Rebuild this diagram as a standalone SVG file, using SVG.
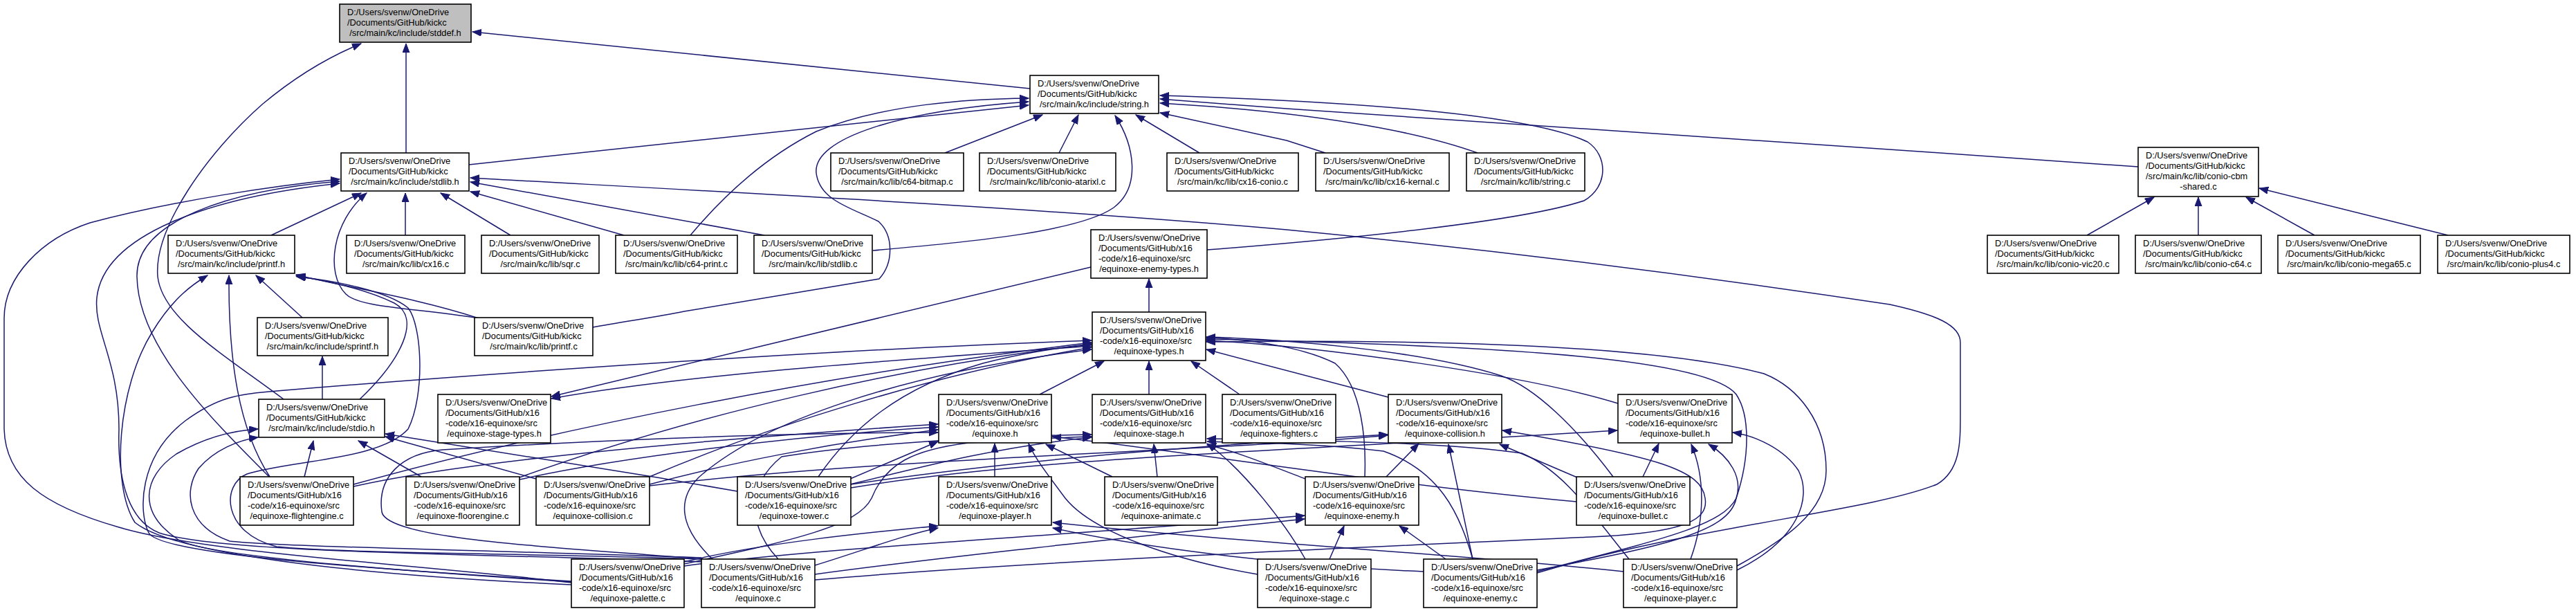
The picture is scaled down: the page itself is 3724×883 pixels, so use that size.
<svg xmlns="http://www.w3.org/2000/svg" width="3724" height="883" viewBox="0 0 3724 883">
<style>
.n rect{fill:#fff;stroke:#000;stroke-width:1.6}
.n.g rect{fill:#bfbfbf}
.n text{font-family:"Liberation Sans",Arial,sans-serif;font-size:12.8px;fill:#000}
.n text.c{text-anchor:middle}
.e path{fill:none;stroke:#191970;stroke-width:1.5;marker-end:url(#ah)}
</style>
<defs>
<marker id="ah" markerUnits="userSpaceOnUse" markerWidth="14" markerHeight="12" refX="13" refY="5" orient="auto"><path d="M0,0 L13,5 L0,10 Z" fill="#191970" stroke="#191970"/></marker>
</defs>
<rect width="3724" height="883" fill="#fff"/>
<g id="edges" class="e">
<path d="M1489,128 L683,46"/>
<path d="M587,221 L587,63"/>
<path d="M410,577 C320,510 235,460 228,400 C222,330 300,220 380,150 C440,100 490,76 522,63"/>
<path d="M678,238 L1487,152"/>
<path d="M998,340 C1040,290 1100,230 1180,190 C1280,150 1400,143 1487,142"/>
<path d="M857,473 C900,465 950,458 989,450 L1271,403 C1292,380 1292,340 1270,320 C1230,300 1185,290 1180,250 C1175,200 1300,160 1487,147"/>
<path d="M1366,221 L1507,166"/>
<path d="M1531,221 L1559,166"/>
<path d="M1262,362 C1400,350 1560,335 1610,300 C1650,270 1640,210 1612,167"/>
<path d="M1734,221 L1642,166"/>
<path d="M1916,221 L1860,203 L1677,163"/>
<path d="M2136,221 C2050,190 1900,162 1677,149"/>
<path d="M3091,241 L2790,220 L1860,157 L1677,143"/>
<path d="M1745,361 C1950,345 2200,320 2290,290 C2325,270 2325,225 2295,205 C2200,160 1900,145 1677,138"/>
<path d="M392,340 L522,279"/>
<path d="M692,460 C600,445 520,445 500,425 C470,395 480,320 530,279"/>
<path d="M586,340 L586,279"/>
<path d="M738,340 L637,279"/>
<path d="M902,340 L680,277"/>
<path d="M1105,340 L680,263"/>
<path d="M2222,828 C2450,760 2700,740 2800,700 C2834,680 2834,640 2834,600 L2834,495 C2834,470 2800,455 2732,440 C2400,390 2100,355 1860,332 C1500,300 1000,275 680,257"/>
<path d="M826,842 C600,815 300,800 172,762 C60,730 8,690 6,620 L6,460 C6,400 60,345 130,322 C250,290 400,268 491,259"/>
<path d="M389,689 C300,600 200,500 198,400 C196,320 330,275 491,262"/>
<path d="M1014,812 C700,800 320,800 230,770 C180,750 170,680 172,620 C172,520 135,480 140,430 C150,340 300,285 491,265"/>
<path d="M826,845 C500,830 250,800 195,755 C160,700 170,560 220,480 C250,430 280,410 300,398"/>
<path d="M390,689 C345,620 330,520 331,398"/>
<path d="M437,459 L370,398"/>
<path d="M692,460 C600,430 500,415 428,397"/>
<path d="M520,577 C580,520 610,460 570,438 C530,418 470,405 428,399"/>
<path d="M1014,808 C800,800 500,800 400,790 C320,770 320,700 357,685 C420,665 550,665 590,620 C615,570 610,470 590,445 C560,420 480,405 429,400"/>
<path d="M466,577 L466,515"/>
<path d="M826,841 C500,820 280,800 255,778 C200,740 205,690 255,656 C300,630 340,622 373,620"/>
<path d="M1014,806 C700,795 400,790 332,782 C270,760 265,710 287,677 C310,650 345,636 373,632"/>
<path d="M440,689 L453,637"/>
<path d="M609,689 L518,637"/>
<path d="M775,692 L557,631"/>
<path d="M1066,710 L950,690 L557,627"/>
<path d="M1661,451 L1661,403"/>
<path d="M1577,386 L797,573"/>
<path d="M1579,500 C1300,520 1000,540 797,576"/>
<path d="M826,840 C500,820 230,800 215,770 C200,740 200,660 268,608 C320,570 350,570 400,565 C700,540 1200,505 1578,492"/>
<path d="M1183,689 C1230,620 1300,560 1421,525 C1480,510 1530,502 1578,498"/>
<path d="M1503,570 L1596,522"/>
<path d="M1661,570 L1661,522"/>
<path d="M1792,570 L1722,522"/>
<path d="M2007,574 L1744,505"/>
<path d="M2339,583 C2200,540 1900,500 1744,492"/>
<path d="M1973,689 C1975,640 1970,560 1930,525 C1880,500 1800,490 1744,488"/>
<path d="M2332,689 C2280,620 2220,560 2170,543 C2050,505 1850,490 1744,487"/>
<path d="M2222,826 C2400,780 2490,760 2510,720 C2530,660 2530,600 2510,570 C2470,520 2200,500 1744,490"/>
<path d="M2511,818 C2580,780 2640,740 2640,680 C2640,610 2600,560 2550,540 C2400,500 2100,490 1744,494"/>
<path d="M511,703 C700,660 1100,630 1356,613"/>
<path d="M751,693 C900,660 1150,630 1356,617"/>
<path d="M939,700 C1050,670 1200,640 1356,621"/>
<path d="M989,812 C1100,785 1250,770 1356,760"/>
<path d="M1178,817 C1250,795 1300,775 1356,763"/>
<path d="M1229,692 L1356,638"/>
<path d="M1438,689 L1438,641"/>
<path d="M1608,689 L1512,642"/>
<path d="M1818,830 C1700,810 1580,770 1540,720 C1510,680 1495,660 1487,641"/>
<path d="M1673,689 L1668,642"/>
<path d="M989,815 C1150,780 1240,760 1260,720 C1280,670 1320,650 1400,640 C1480,635 1540,632 1578,631"/>
<path d="M1125,808 C1080,760 1080,700 1130,660 C1250,640 1450,630 1578,628"/>
<path d="M1229,700 C1350,670 1450,645 1578,632"/>
<path d="M511,700 C800,620 1200,540 1578,495"/>
<path d="M751,690 C1000,600 1300,530 1578,497"/>
<path d="M939,689 C1100,620 1350,540 1578,502"/>
<path d="M1887,808 C1860,760 1800,680 1745,641"/>
<path d="M2129,808 C2110,740 2080,680 2000,652 C1900,640 1800,640 1745,638"/>
<path d="M2355,808 C2300,740 2260,680 2200,655 C2100,640 1900,636 1745,634"/>
<path d="M2004,689 L2051,641"/>
<path d="M2129,808 L2094,642"/>
<path d="M2280,690 L2168,642"/>
<path d="M1178,838 C1500,810 2000,790 2300,776 C2440,770 2470,750 2465,720 C2460,680 2400,660 2172,622"/>
<path d="M939,702 C1300,660 1800,650 2006,629"/>
<path d="M1922,808 L1943,760"/>
<path d="M2090,808 L2023,760"/>
<path d="M989,818 C1200,790 1600,770 1886,745"/>
<path d="M1178,830 C1400,800 1700,770 1886,750"/>
<path d="M2375,689 L2398,641"/>
<path d="M2444,808 C2465,750 2465,690 2445,642"/>
<path d="M2222,824 C2400,790 2500,770 2510,720 C2520,690 2500,660 2470,642"/>
<path d="M2511,824 C2600,780 2620,720 2600,680 C2580,650 2540,630 2505,625"/>
<path d="M1230,705 C1500,660 1900,650 2338,622"/>
<path d="M1230,700 C1500,660 1800,640 2006,628"/>
<path d="M2347,826 C2100,800 1800,785 1522,755"/>
<path d="M2058,826 C1800,815 1600,780 1522,763"/>
<path d="M1887,692 C1830,670 1780,650 1745,643"/>
<path d="M2279,725 C2000,700 1700,650 1521,631"/>
<path d="M1016,808 C800,790 560,780 552,740 C545,690 580,655 640,650 C800,640 1100,625 1356,625"/>
<path d="M1030,808 C980,760 980,720 1010,690 C1100,610 1300,540 1578,505"/>
<path d="M3017,340 L3114,285"/>
<path d="M3178,340 L3178,285"/>
<path d="M3346,340 L3247,285"/>
<path d="M3539,340 L3266,272"/>
</g>
<g id="n_stddef_h" class="n g" transform="translate(491,6)"><rect width="190" height="55"/><text x="11" y="15.5">D:/Users/svenw/OneDrive</text><text x="11" y="30.5">/Documents/GitHub/kickc</text><text class="c" x="95" y="45.5">/src/main/kc/include/stddef.h</text></g>
<g id="n_string_h" class="n" transform="translate(1489,109)"><rect width="186" height="55"/><text x="11" y="15.5">D:/Users/svenw/OneDrive</text><text x="11" y="30.5">/Documents/GitHub/kickc</text><text class="c" x="93" y="45.5">/src/main/kc/include/string.h</text></g>
<g id="n_stdlib_h" class="n" transform="translate(493,221)"><rect width="185" height="55"/><text x="11" y="15.5">D:/Users/svenw/OneDrive</text><text x="11" y="30.5">/Documents/GitHub/kickc</text><text class="c" x="92.5" y="45.5">/src/main/kc/include/stdlib.h</text></g>
<g id="n_c64_bitmap_c" class="n" transform="translate(1201,221)"><rect width="192" height="55"/><text x="11" y="15.5">D:/Users/svenw/OneDrive</text><text x="11" y="30.5">/Documents/GitHub/kickc</text><text class="c" x="96" y="45.5">/src/main/kc/lib/c64-bitmap.c</text></g>
<g id="n_conio_atarixl_c" class="n" transform="translate(1416,221)"><rect width="197" height="55"/><text x="11" y="15.5">D:/Users/svenw/OneDrive</text><text x="11" y="30.5">/Documents/GitHub/kickc</text><text class="c" x="98.5" y="45.5">/src/main/kc/lib/conio-atarixl.c</text></g>
<g id="n_cx16_conio_c" class="n" transform="translate(1687,221)"><rect width="190" height="55"/><text x="11" y="15.5">D:/Users/svenw/OneDrive</text><text x="11" y="30.5">/Documents/GitHub/kickc</text><text class="c" x="95" y="45.5">/src/main/kc/lib/cx16-conio.c</text></g>
<g id="n_cx16_kernal_c" class="n" transform="translate(1902,221)"><rect width="193" height="55"/><text x="11" y="15.5">D:/Users/svenw/OneDrive</text><text x="11" y="30.5">/Documents/GitHub/kickc</text><text class="c" x="96.5" y="45.5">/src/main/kc/lib/cx16-kernal.c</text></g>
<g id="n_string_c" class="n" transform="translate(2120,221)"><rect width="171" height="55"/><text x="11" y="15.5">D:/Users/svenw/OneDrive</text><text x="11" y="30.5">/Documents/GitHub/kickc</text><text class="c" x="85.5" y="45.5">/src/main/kc/lib/string.c</text></g>
<g id="n_conio_cbm_shared_c" class="n" transform="translate(3091,213)"><rect width="174" height="71"/><text x="11" y="16">D:/Users/svenw/OneDrive</text><text x="11" y="31">/Documents/GitHub/kickc</text><text x="11" y="46">/src/main/kc/lib/conio-cbm</text><text class="c" x="87" y="61">-shared.c</text></g>
<g id="n_printf_h" class="n" transform="translate(243,340)"><rect width="183" height="55"/><text x="11" y="15.5">D:/Users/svenw/OneDrive</text><text x="11" y="30.5">/Documents/GitHub/kickc</text><text class="c" x="91.5" y="45.5">/src/main/kc/include/printf.h</text></g>
<g id="n_cx16_c" class="n" transform="translate(501,340)"><rect width="171" height="55"/><text x="11" y="15.5">D:/Users/svenw/OneDrive</text><text x="11" y="30.5">/Documents/GitHub/kickc</text><text class="c" x="85.5" y="45.5">/src/main/kc/lib/cx16.c</text></g>
<g id="n_sqr_c" class="n" transform="translate(696,340)"><rect width="170" height="55"/><text x="11" y="15.5">D:/Users/svenw/OneDrive</text><text x="11" y="30.5">/Documents/GitHub/kickc</text><text class="c" x="85" y="45.5">/src/main/kc/lib/sqr.c</text></g>
<g id="n_c64_print_c" class="n" transform="translate(890,340)"><rect width="176" height="55"/><text x="11" y="15.5">D:/Users/svenw/OneDrive</text><text x="11" y="30.5">/Documents/GitHub/kickc</text><text class="c" x="88" y="45.5">/src/main/kc/lib/c64-print.c</text></g>
<g id="n_stdlib_c" class="n" transform="translate(1090,340)"><rect width="171" height="55"/><text x="11" y="15.5">D:/Users/svenw/OneDrive</text><text x="11" y="30.5">/Documents/GitHub/kickc</text><text class="c" x="85.5" y="45.5">/src/main/kc/lib/stdlib.c</text></g>
<g id="n_enemy_types_h" class="n" transform="translate(1577,332)"><rect width="168" height="70"/><text x="11" y="16">D:/Users/svenw/OneDrive</text><text x="11" y="31">/Documents/GitHub/x16</text><text x="11" y="46">-code/x16-equinoxe/src</text><text class="c" x="84" y="61">/equinoxe-enemy-types.h</text></g>
<g id="n_conio_vic20_c" class="n" transform="translate(2873,340)"><rect width="190" height="55"/><text x="11" y="15.5">D:/Users/svenw/OneDrive</text><text x="11" y="30.5">/Documents/GitHub/kickc</text><text class="c" x="95" y="45.5">/src/main/kc/lib/conio-vic20.c</text></g>
<g id="n_conio_c64_c" class="n" transform="translate(3087,340)"><rect width="182" height="55"/><text x="11" y="15.5">D:/Users/svenw/OneDrive</text><text x="11" y="30.5">/Documents/GitHub/kickc</text><text class="c" x="91" y="45.5">/src/main/kc/lib/conio-c64.c</text></g>
<g id="n_conio_mega65_c" class="n" transform="translate(3293,340)"><rect width="206" height="55"/><text x="11" y="15.5">D:/Users/svenw/OneDrive</text><text x="11" y="30.5">/Documents/GitHub/kickc</text><text class="c" x="103" y="45.5">/src/main/kc/lib/conio-mega65.c</text></g>
<g id="n_conio_plus4_c" class="n" transform="translate(3524,340)"><rect width="191" height="55"/><text x="11" y="15.5">D:/Users/svenw/OneDrive</text><text x="11" y="30.5">/Documents/GitHub/kickc</text><text class="c" x="95.5" y="45.5">/src/main/kc/lib/conio-plus4.c</text></g>
<g id="n_sprintf_h" class="n" transform="translate(372,459)"><rect width="189" height="55"/><text x="11" y="15.5">D:/Users/svenw/OneDrive</text><text x="11" y="30.5">/Documents/GitHub/kickc</text><text class="c" x="94.5" y="45.5">/src/main/kc/include/sprintf.h</text></g>
<g id="n_printf_c" class="n" transform="translate(686,459)"><rect width="171" height="55"/><text x="11" y="15.5">D:/Users/svenw/OneDrive</text><text x="11" y="30.5">/Documents/GitHub/kickc</text><text class="c" x="85.5" y="45.5">/src/main/kc/lib/printf.c</text></g>
<g id="n_types_h" class="n" transform="translate(1579,451)"><rect width="164" height="70"/><text x="11" y="16">D:/Users/svenw/OneDrive</text><text x="11" y="31">/Documents/GitHub/x16</text><text x="11" y="46">-code/x16-equinoxe/src</text><text class="c" x="82" y="61">/equinoxe-types.h</text></g>
<g id="n_stdio_h" class="n" transform="translate(374,577)"><rect width="182" height="55"/><text x="11" y="15.5">D:/Users/svenw/OneDrive</text><text x="11" y="30.5">/Documents/GitHub/kickc</text><text class="c" x="91" y="45.5">/src/main/kc/include/stdio.h</text></g>
<g id="n_stage_types_h" class="n" transform="translate(633,570)"><rect width="163" height="70"/><text x="11" y="16">D:/Users/svenw/OneDrive</text><text x="11" y="31">/Documents/GitHub/x16</text><text x="11" y="46">-code/x16-equinoxe/src</text><text class="c" x="81.5" y="61">/equinoxe-stage-types.h</text></g>
<g id="n_equinoxe_h" class="n" transform="translate(1357,570)"><rect width="163" height="70"/><text x="11" y="16">D:/Users/svenw/OneDrive</text><text x="11" y="31">/Documents/GitHub/x16</text><text x="11" y="46">-code/x16-equinoxe/src</text><text class="c" x="81.5" y="61">/equinoxe.h</text></g>
<g id="n_stage_h" class="n" transform="translate(1579,570)"><rect width="164" height="70"/><text x="11" y="16">D:/Users/svenw/OneDrive</text><text x="11" y="31">/Documents/GitHub/x16</text><text x="11" y="46">-code/x16-equinoxe/src</text><text class="c" x="82" y="61">/equinoxe-stage.h</text></g>
<g id="n_fighters_c" class="n" transform="translate(1767,570)"><rect width="164" height="70"/><text x="11" y="16">D:/Users/svenw/OneDrive</text><text x="11" y="31">/Documents/GitHub/x16</text><text x="11" y="46">-code/x16-equinoxe/src</text><text class="c" x="82" y="61">/equinoxe-fighters.c</text></g>
<g id="n_collision_h" class="n" transform="translate(2007,570)"><rect width="164" height="70"/><text x="11" y="16">D:/Users/svenw/OneDrive</text><text x="11" y="31">/Documents/GitHub/x16</text><text x="11" y="46">-code/x16-equinoxe/src</text><text class="c" x="82" y="61">/equinoxe-collision.h</text></g>
<g id="n_bullet_h" class="n" transform="translate(2339,570)"><rect width="165" height="70"/><text x="11" y="16">D:/Users/svenw/OneDrive</text><text x="11" y="31">/Documents/GitHub/x16</text><text x="11" y="46">-code/x16-equinoxe/src</text><text class="c" x="82.5" y="61">/equinoxe-bullet.h</text></g>
<g id="n_flightengine_c" class="n" transform="translate(347,689)"><rect width="164" height="70"/><text x="11" y="16">D:/Users/svenw/OneDrive</text><text x="11" y="31">/Documents/GitHub/x16</text><text x="11" y="46">-code/x16-equinoxe/src</text><text class="c" x="82" y="61">/equinoxe-flightengine.c</text></g>
<g id="n_floorengine_c" class="n" transform="translate(587,689)"><rect width="164" height="70"/><text x="11" y="16">D:/Users/svenw/OneDrive</text><text x="11" y="31">/Documents/GitHub/x16</text><text x="11" y="46">-code/x16-equinoxe/src</text><text class="c" x="82" y="61">/equinoxe-floorengine.c</text></g>
<g id="n_collision_c" class="n" transform="translate(775,689)"><rect width="164" height="70"/><text x="11" y="16">D:/Users/svenw/OneDrive</text><text x="11" y="31">/Documents/GitHub/x16</text><text x="11" y="46">-code/x16-equinoxe/src</text><text class="c" x="82" y="61">/equinoxe-collision.c</text></g>
<g id="n_tower_c" class="n" transform="translate(1066,689)"><rect width="164" height="70"/><text x="11" y="16">D:/Users/svenw/OneDrive</text><text x="11" y="31">/Documents/GitHub/x16</text><text x="11" y="46">-code/x16-equinoxe/src</text><text class="c" x="82" y="61">/equinoxe-tower.c</text></g>
<g id="n_player_h" class="n" transform="translate(1357,689)"><rect width="163" height="70"/><text x="11" y="16">D:/Users/svenw/OneDrive</text><text x="11" y="31">/Documents/GitHub/x16</text><text x="11" y="46">-code/x16-equinoxe/src</text><text class="c" x="81.5" y="61">/equinoxe-player.h</text></g>
<g id="n_animate_c" class="n" transform="translate(1597,689)"><rect width="163" height="70"/><text x="11" y="16">D:/Users/svenw/OneDrive</text><text x="11" y="31">/Documents/GitHub/x16</text><text x="11" y="46">-code/x16-equinoxe/src</text><text class="c" x="81.5" y="61">/equinoxe-animate.c</text></g>
<g id="n_enemy_h" class="n" transform="translate(1887,689)"><rect width="164" height="70"/><text x="11" y="16">D:/Users/svenw/OneDrive</text><text x="11" y="31">/Documents/GitHub/x16</text><text x="11" y="46">-code/x16-equinoxe/src</text><text class="c" x="82" y="61">/equinoxe-enemy.h</text></g>
<g id="n_bullet_c" class="n" transform="translate(2279,689)"><rect width="164" height="70"/><text x="11" y="16">D:/Users/svenw/OneDrive</text><text x="11" y="31">/Documents/GitHub/x16</text><text x="11" y="46">-code/x16-equinoxe/src</text><text class="c" x="82" y="61">/equinoxe-bullet.c</text></g>
<g id="n_palette_c" class="n" transform="translate(826,808)"><rect width="163" height="70"/><text x="11" y="16">D:/Users/svenw/OneDrive</text><text x="11" y="31">/Documents/GitHub/x16</text><text x="11" y="46">-code/x16-equinoxe/src</text><text class="c" x="81.5" y="61">/equinoxe-palette.c</text></g>
<g id="n_equinoxe_c" class="n" transform="translate(1014,808)"><rect width="164" height="70"/><text x="11" y="16">D:/Users/svenw/OneDrive</text><text x="11" y="31">/Documents/GitHub/x16</text><text x="11" y="46">-code/x16-equinoxe/src</text><text class="c" x="82" y="61">/equinoxe.c</text></g>
<g id="n_stage_c" class="n" transform="translate(1818,808)"><rect width="164" height="70"/><text x="11" y="16">D:/Users/svenw/OneDrive</text><text x="11" y="31">/Documents/GitHub/x16</text><text x="11" y="46">-code/x16-equinoxe/src</text><text class="c" x="82" y="61">/equinoxe-stage.c</text></g>
<g id="n_enemy_c" class="n" transform="translate(2058,808)"><rect width="164" height="70"/><text x="11" y="16">D:/Users/svenw/OneDrive</text><text x="11" y="31">/Documents/GitHub/x16</text><text x="11" y="46">-code/x16-equinoxe/src</text><text class="c" x="82" y="61">/equinoxe-enemy.c</text></g>
<g id="n_player_c" class="n" transform="translate(2347,808)"><rect width="164" height="70"/><text x="11" y="16">D:/Users/svenw/OneDrive</text><text x="11" y="31">/Documents/GitHub/x16</text><text x="11" y="46">-code/x16-equinoxe/src</text><text class="c" x="82" y="61">/equinoxe-player.c</text></g>
</svg>
